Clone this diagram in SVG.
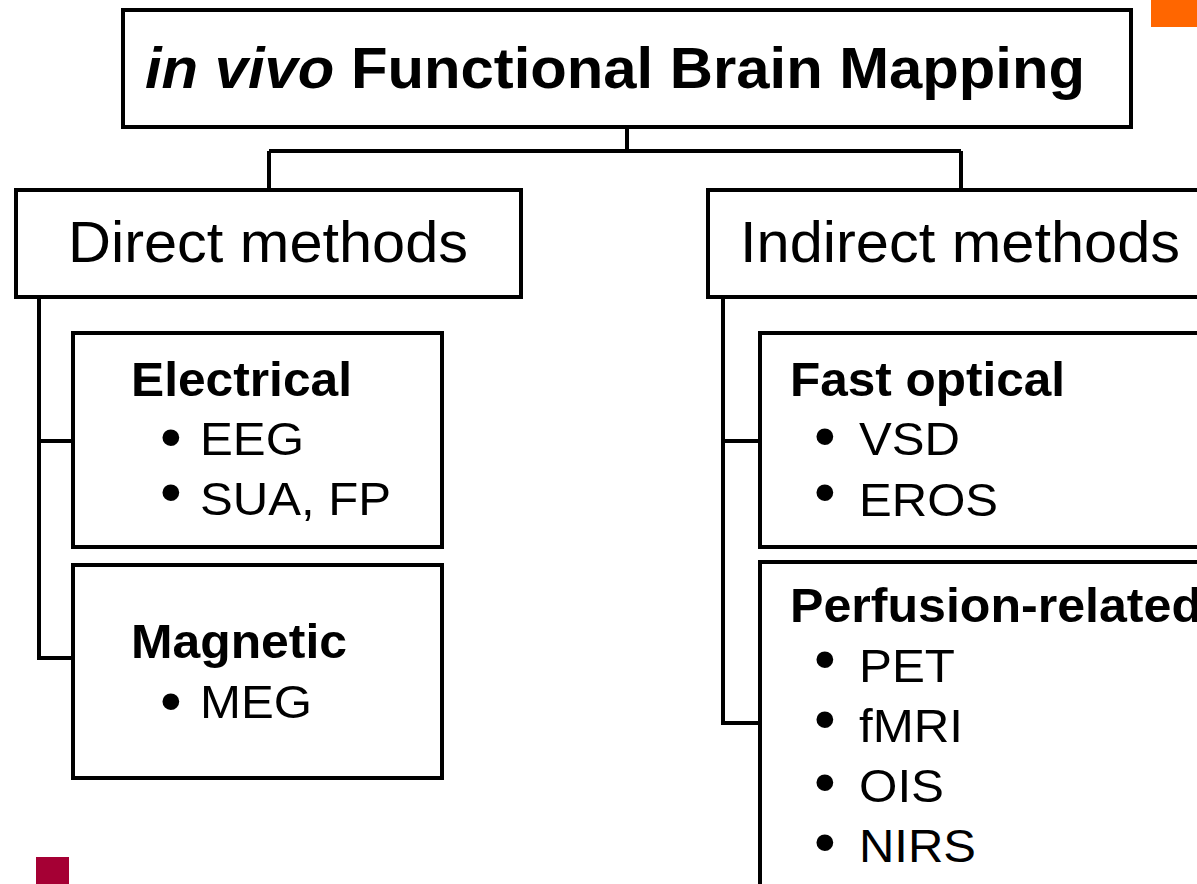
<svg xmlns="http://www.w3.org/2000/svg" width="1197" height="884" viewBox="0 0 1197 884">
<style>
.box{fill:#fff;stroke:#000;stroke-width:4}
.ln{fill:none;stroke:#000;stroke-width:4}
.t{font-family:"Liberation Sans",Arial,sans-serif;fill:#000}
.h{font-size:57px}
.b{font-size:48px;font-weight:bold}
.i{font-size:47px}
.u{font-size:62px}
</style>
<rect x="0" y="0" width="1197" height="884" fill="#fff"/>
<rect x="1151" y="0" width="46" height="27" fill="#FF6600"/>
<rect x="36" y="857" width="33" height="27" fill="#A50034"/>
<g id="connectors">
<path class="ln" d="M627,127 V151 M269,151 H961 M269,151 V190 M961,151 V190"/>
<path class="ln" d="M39,297 V658 H74 M39,441 H74"/>
<path class="ln" d="M723,297 V723 H762 M723,441 H762"/>
</g>
<g id="title">
<rect class="box" x="123" y="10" width="1008" height="117"/>
<text class="t" x="145" y="88" font-size="58" font-weight="bold" textLength="940" lengthAdjust="spacingAndGlyphs"><tspan font-style="italic">in vivo</tspan> Functional Brain Mapping</text>
</g>
<g id="direct">
<rect class="box" x="16" y="190" width="505" height="107"/>
<text class="t h" x="68" y="262" textLength="400" lengthAdjust="spacingAndGlyphs">Direct methods</text>
</g>
<g id="indirect">
<rect class="box" x="708" y="190" width="520" height="107"/>
<text class="t h" x="740" y="262" textLength="440" lengthAdjust="spacingAndGlyphs">Indirect methods</text>
</g>
<g id="electrical">
<rect class="box" x="73" y="333" width="369" height="214"/>
<text class="t b" x="131" y="396" textLength="221" lengthAdjust="spacingAndGlyphs">Electrical</text>
<text class="t i"><tspan class="u" x="160" y="458">•</tspan><tspan x="200" y="455" textLength="104" lengthAdjust="spacingAndGlyphs">EEG</tspan></text>
<text class="t i"><tspan class="u" x="160" y="513">•</tspan><tspan x="200" y="515" textLength="191" lengthAdjust="spacingAndGlyphs">SUA, FP</tspan></text>
</g>
<g id="magnetic">
<rect class="box" x="73" y="565" width="369" height="213"/>
<text class="t b" x="131" y="658" textLength="216" lengthAdjust="spacingAndGlyphs">Magnetic</text>
<text class="t i"><tspan class="u" x="160" y="722">•</tspan><tspan x="200" y="718" textLength="112" lengthAdjust="spacingAndGlyphs">MEG</tspan></text>
</g>
<g id="fastoptical">
<rect class="box" x="760" y="333" width="470" height="214"/>
<text class="t b" x="790" y="396" textLength="275" lengthAdjust="spacingAndGlyphs">Fast optical</text>
<text class="t i"><tspan class="u" x="814" y="457">•</tspan><tspan x="859" y="455" textLength="101" lengthAdjust="spacingAndGlyphs">VSD</tspan></text>
<text class="t i"><tspan class="u" x="814" y="513">•</tspan><tspan x="859" y="516" textLength="139" lengthAdjust="spacingAndGlyphs">EROS</tspan></text>
</g>
<g id="perfusion">
<rect class="box" x="760" y="562" width="470" height="340"/>
<text class="t b" x="790" y="622" textLength="412" lengthAdjust="spacingAndGlyphs">Perfusion-related</text>
<text class="t i"><tspan class="u" x="814" y="680">•</tspan><tspan x="859" y="682" textLength="96" lengthAdjust="spacingAndGlyphs">PET</tspan></text>
<text class="t i"><tspan class="u" x="814" y="740">•</tspan><tspan x="859" y="742" textLength="104" lengthAdjust="spacingAndGlyphs">fMRI</tspan></text>
<text class="t i"><tspan class="u" x="814" y="803">•</tspan><tspan x="859" y="802" textLength="85" lengthAdjust="spacingAndGlyphs">OIS</tspan></text>
<text class="t i"><tspan class="u" x="814" y="863">•</tspan><tspan x="859" y="862" textLength="117" lengthAdjust="spacingAndGlyphs">NIRS</tspan></text>
</g>
</svg>
